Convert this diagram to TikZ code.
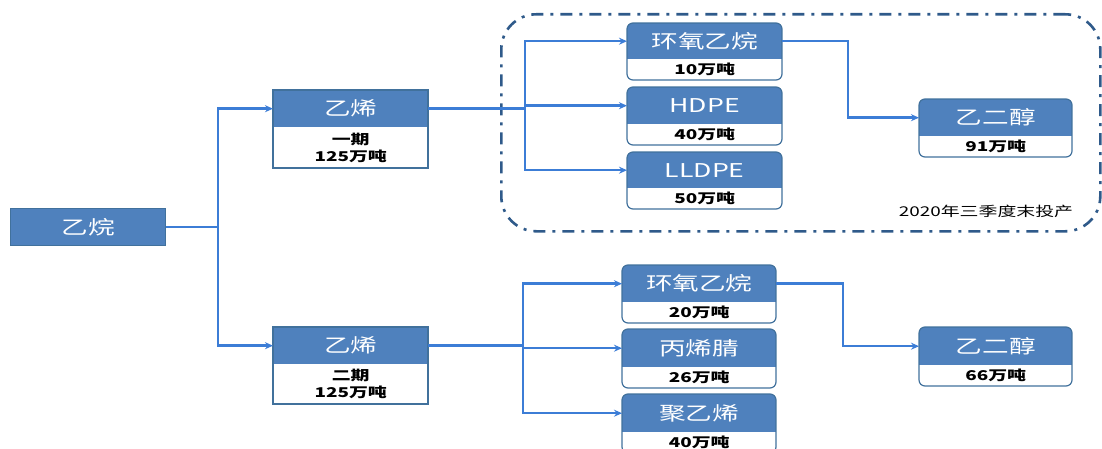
\documentclass[tikz,border=0pt]{standalone}
\usepackage{fontspec}
\setmainfont{Noto Sans CJK SC}[FakeStretch=1.4]
\usetikzlibrary{arrows.meta}
\definecolor{hdr}{HTML}{4F81BD}
\definecolor{bdr}{HTML}{41719C}
\definecolor{conn}{HTML}{3C7DD6}
\definecolor{grpline}{HTML}{2F5A8A}
\tikzset{
  hdrtext/.style={text=white, font=\fontsize{19}{22}\selectfont, inner sep=0pt},
  subtext/.style={text=black, font=\fontsize{13.5}{17}\selectfont\bfseries, inner sep=0pt, align=center},
  boxline/.style={draw=bdr, line width=1.2pt},
  conn/.style={draw=conn, line width=2.5pt},
  arr/.style={conn, -{Stealth[length=8pt,width=7pt]}},
}
% #1 name, #2 x, #3 y(top), #4 width, #5 header h, #6 body h, #7 corner style, #8 title, #9 sub
\newcommand{\ProdBox}[9]{%
  \begin{scope}
    \clip[#7] (#2,#3) rectangle (#2+#4,#3+#5+#6);
    \fill[white] (#2,#3) rectangle (#2+#4,#3+#5+#6);
    \fill[hdr] (#2,#3) rectangle (#2+#4,#3+#5);
  \end{scope}
  \node[hdrtext, minimum width=#4pt, minimum height=#5pt, anchor=north west] (#1) at (#2,#3) {#8};
  \node[subtext, minimum width=#4pt, minimum height=#6pt, anchor=north west] (#1-sub) at (#2,#3+#5) {#9};
  \draw[boxline, #7] (#2,#3) rectangle (#2+#4,#3+#5+#6);
}
\begin{document}
\begin{tikzpicture}[x=1pt,y=-1pt]
\useasboundingbox (0,0) rectangle (1102,449);
\clip (0,0) rectangle (1102,449);

% group frame
\node[draw=grpline, line width=2.6pt, dash pattern=on 12pt off 7pt on 3pt off 7pt,
      rounded corners=35pt, minimum width=599pt, minimum height=217pt, anchor=north west, inner sep=0pt]
      (grp) at (500,13) {};
\node[font=\fontsize{13.5}{16}\selectfont, inner sep=0pt] (note) at (986,211) {2020年三季度末投产};

% source
\node[hdrtext, fill=hdr, boxline, minimum width=155pt, minimum height=37pt, anchor=north west] (ea) at (10,208) {乙烷};

% ethylene boxes
\ProdBox{e1}{273}{90}{155}{37}{41}{sharp corners}{乙烯}{一期\\125万吨}
\ProdBox{e2}{273}{327}{155}{37}{40}{sharp corners}{乙烯}{二期\\125万吨}

% phase 1 products
\ProdBox{t1}{627}{23}{155}{36}{21}{rounded corners=6pt}{环氧乙烷}{10万吨}
\ProdBox{t2}{627}{87}{155}{37}{21}{rounded corners=6pt}{HDPE}{40万吨}
\ProdBox{t3}{627}{152}{155}{36}{21}{rounded corners=6pt}{LLDPE}{50万吨}
\ProdBox{g1}{919}{99}{153}{37}{21}{rounded corners=6pt}{乙二醇}{91万吨}

% phase 2 products
\ProdBox{b1}{622}{265}{154}{37}{21}{rounded corners=6pt}{环氧乙烷}{20万吨}
\ProdBox{b2}{622}{329}{154}{38}{21}{rounded corners=6pt}{丙烯腈}{26万吨}
\ProdBox{b3}{622}{394}{154}{38}{21}{rounded corners=6pt}{聚乙烯}{40万吨}
\ProdBox{g2}{919}{327}{153}{38}{21}{rounded corners=6pt}{乙二醇}{66万吨}

% junction columns
\coordinate (j0) at (218,0);
\coordinate (j1) at (525,0);
\coordinate (j2) at (848,0);
\coordinate (j3) at (523,0);
\coordinate (j4) at (843,0);

% connectors
\draw[conn] (ea.east) -- (ea.east -| j0);
\draw[arr] (ea.east -| j0) |- (e1.west);
\draw[arr] (ea.east -| j0) |- (e2.west);

\draw[conn] (e1.east) -- (e1.east -| j1);
\draw[arr] (e1.east -| j1) |- (t1.west);
\draw[arr] (e1.east -| j1) |- (t2.west);
\draw[arr] (e1.east -| j1) |- (t3.west);
\draw[arr] (t1.east) -- (t1.east -| j2) |- (g1.west);

\draw[conn] (e2.east) -- (e2.east -| j3);
\draw[arr] (e2.east -| j3) |- (b1.west);
\draw[arr] (e2.east -| j3) |- (b2.west);
\draw[arr] (e2.east -| j3) |- (b3.west);
\draw[arr] (b1.east) -- (b1.east -| j4) |- (g2.west);
\end{tikzpicture}
\end{document}
